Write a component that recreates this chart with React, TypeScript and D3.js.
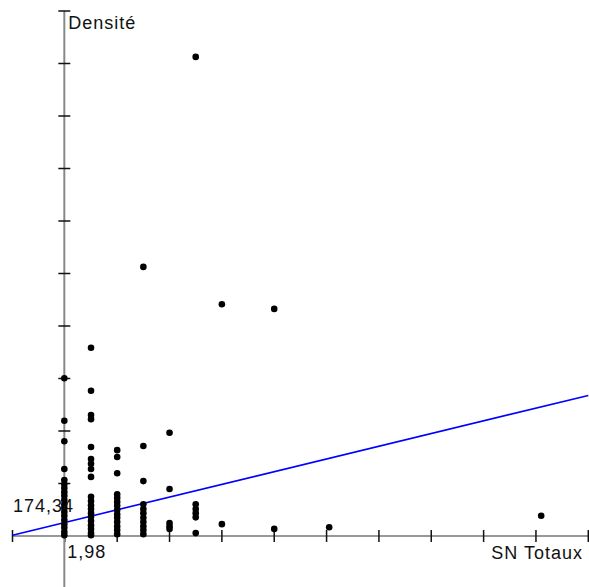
import React from "react";
import * as d3 from "d3";

// SN Totaux column values and the Densité values observed in each column
const xColumns = [1.98, 3, 4, 5, 6, 7, 8, 10, 12.1, 20.2];
const densByColumn: number[][] = [
  [3180, 2370, 1980, 1450, 1240, 1160, 1090, 1010, 940, 860, 780, 710, 630, 560, 480, 400, 330, 250, 190],
  [3760, 2940, 2480, 2400, 1870, 1640, 1550, 1450, 1300, 920, 840, 760, 690, 610, 540, 460, 380, 310, 230, 190],
  [1810, 1680, 1370, 970, 900, 820, 750, 670, 590, 520, 440, 360, 290, 210],
  [5300, 1890, 1220, 780, 690, 610, 520, 440, 360, 290, 210],
  [2140, 1070, 420, 360, 310],
  [9300, 780, 690, 610, 530, 230],
  [4590, 400],
  [4500, 310],
  [340],
  [560],
];
const xTicks = [0, 2, 4, 6, 8, 10, 12, 14, 16, 18, 20, 22];
const yOrigin = 174.34;
const xOrigin = 1.98;
const yTickStep = 1000;
const yTickCount = 10;
const lineIntercept = 190;
const lineSlope = 121;
const xLabel = "SN Totaux";
const yLabel = "Densité";
const xOriginLabel = "1,98";
const yOriginLabel = "174,34";

export default function App() {
  const W = 589;
  const H = 587;
  const x = d3.scaleLinear().domain([0, 22]).range([12.5, 588.3]);
  const y = d3.scaleLinear().domain([yOrigin, yOrigin + yTickStep * yTickCount]).range([536, 11]);
  const points: { x: number; y: number }[] = [];
  xColumns.forEach((xv, i) => densByColumn[i].forEach((v) => points.push({ x: xv, y: v })));
  const yTicks = d3.range(1, yTickCount + 1).map((k) => yOrigin + k * yTickStep);
  const ax = x(xOrigin);
  const ay = y(yOrigin);
  const line = d3
    .line<number>()
    .x((d) => x(d))
    .y((d) => y(lineIntercept + lineSlope * d));
  const font = "'Liberation Sans', Arial, sans-serif";
  return (
    <svg
      width={W}
      height={H}
      style={{ position: "absolute", left: 0, top: 0, background: "#fff" }}
    >
      <rect width={W} height={H} fill="#fff" />
      {/* x axis */}
      <line x1={x(0)} x2={W} y1={ay} y2={ay} stroke="#333" strokeWidth={1.2} />
      {xTicks.map((t) => (
        <line key={t} x1={x(t)} x2={x(t)} y1={ay - 6} y2={ay + 6} stroke="#111" strokeWidth={1.5} />
      ))}
      {/* y axis */}
      <line x1={ax} x2={ax} y1={y(yTicks[yTicks.length - 1])} y2={H} stroke="#888" strokeWidth={2} />
      {yTicks.map((t) => (
        <line key={t} x1={ax - 6} x2={ax + 6} y1={y(t)} y2={y(t)} stroke="#111" strokeWidth={1.5} />
      ))}
      {/* regression line */}
      <path d={line([0, 22]) || ""} stroke="#0000ff" strokeWidth={1.6} fill="none" />
      {points.map((p, i) => (
        <circle key={i} cx={x(p.x)} cy={y(p.y)} r={3.3} fill="#000" />
      ))}
      <g fontFamily={font} fontSize={18} fill="#111" letterSpacing={1}>
        <text x={ax + 4} y={29}>{yLabel}</text>
        <text x={583} y={559} textAnchor="end">{xLabel}</text>
        <text x={ax + 3} y={558}>{xOriginLabel}</text>
        <text x={13} y={512}>{yOriginLabel}</text>
      </g>
    </svg>
  );
}
